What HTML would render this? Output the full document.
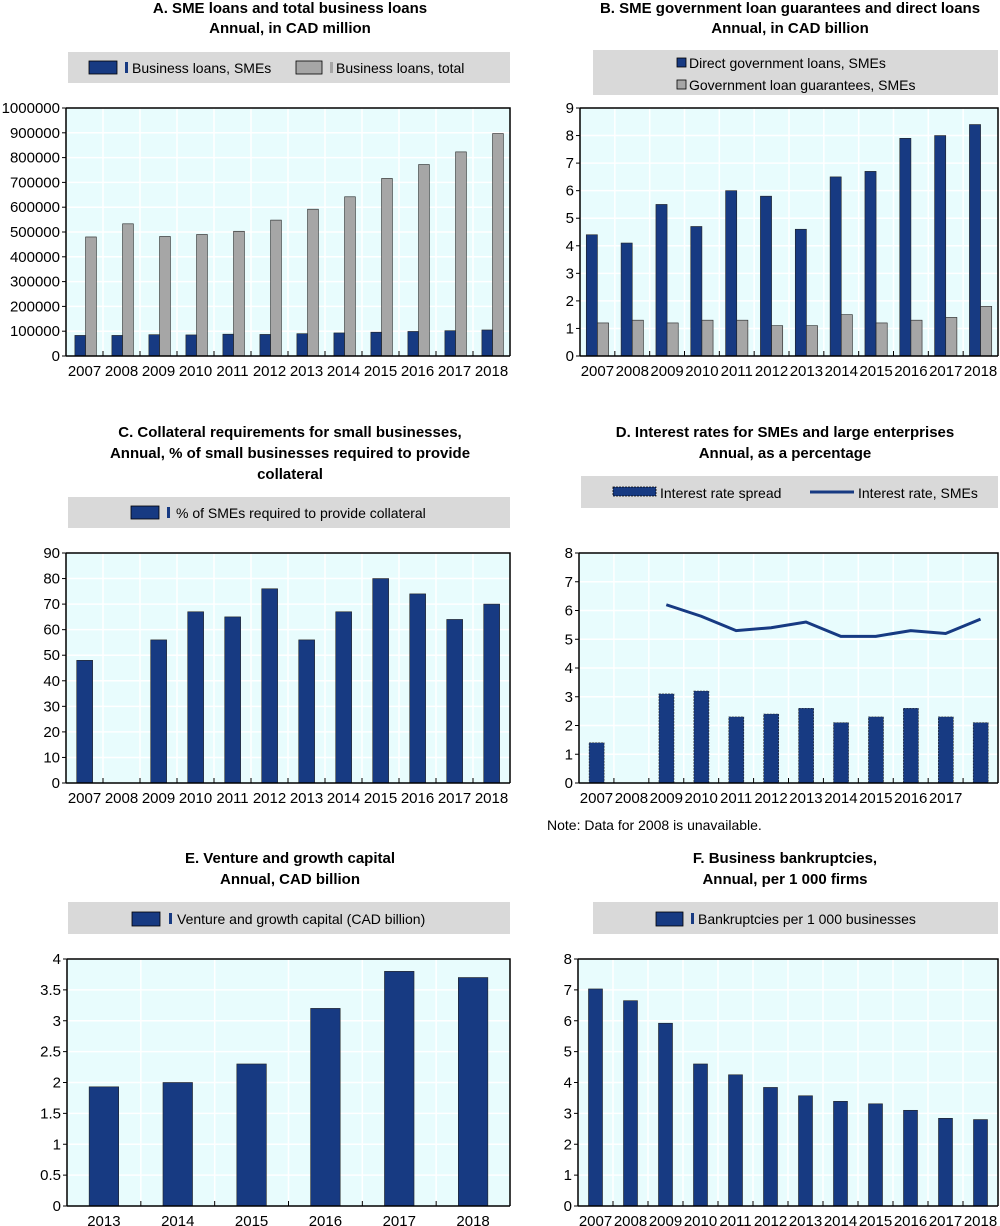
<!DOCTYPE html>
<html><head><meta charset="utf-8"><style>
body{margin:0;background:#fff;}
svg{display:block;font-family:"Liberation Sans Narrow","Liberation Sans",sans-serif;}
.t{font-weight:bold;font-size:15px;text-anchor:middle;font-family:"Liberation Sans",sans-serif;}
.tk{font-size:15px;fill:#000;}
.lg{font-size:14px;fill:#000;}
</style></head><body>
<svg id="s" width="1000" height="1226" viewBox="0 0 1000 1226" xmlns="http://www.w3.org/2000/svg">
<g>
<text class="t" x="290" y="13">A. SME loans and total business loans</text>
<text class="t" x="290" y="33">Annual, in CAD million</text>
<text class="t" x="790" y="13">B. SME government loan guarantees and direct loans</text>
<text class="t" x="790" y="33">Annual, in CAD billion</text>
<text class="t" x="290" y="437">C. Collateral requirements for small businesses,</text>
<text class="t" x="290" y="458">Annual, % of small businesses required to provide</text>
<text class="t" x="290" y="479">collateral</text>
<text class="t" x="785" y="437">D. Interest rates for SMEs and large enterprises</text>
<text class="t" x="785" y="458">Annual, as a percentage</text>
<text class="t" x="290" y="863">E. Venture and growth capital</text>
<text class="t" x="290" y="884">Annual, CAD billion</text>
<text class="t" x="785" y="863">F. Business bankruptcies,</text>
<text class="t" x="785" y="884">Annual, per 1 000 firms</text>
</g>
<g>
<rect x="68" y="52" width="442" height="31" fill="#d9d9d9"/>
<rect x="89" y="61" width="28" height="13" fill="#173a82" stroke="#000" stroke-width="0.8"/>
<rect x="125" y="62" width="3" height="11" fill="#173a82"/>
<text class="lg" x="132" y="73">Business loans, SMEs</text>
<rect x="296" y="61" width="26" height="13" fill="#a6a6a6" stroke="#000" stroke-width="0.8"/>
<rect x="330" y="62" width="3" height="11" fill="#a6a6a6"/>
<text class="lg" x="336" y="73">Business loans, total</text>

<rect x="593" y="50" width="405" height="45" fill="#d9d9d9"/>
<rect x="677" y="58" width="9" height="9" fill="#173a82" stroke="#000" stroke-width="0.8"/>
<text class="lg" x="689" y="68">Direct government loans, SMEs</text>
<rect x="677" y="80" width="9" height="9" fill="#a6a6a6" stroke="#000" stroke-width="0.8"/>
<text class="lg" x="689" y="90">Government loan guarantees, SMEs</text>

<rect x="68" y="497" width="442" height="31" fill="#d9d9d9"/>
<rect x="131" y="506" width="28" height="13" fill="#173a82" stroke="#000" stroke-width="0.8"/>
<rect x="167" y="507" width="3" height="11" fill="#173a82"/>
<text class="lg" x="176" y="518">% of SMEs required to provide collateral</text>

<rect x="581" y="476" width="417" height="32" fill="#d9d9d9"/>
<rect x="613" y="487" width="43" height="9" fill="#173a82" stroke="#000" stroke-width="0.8" stroke-dasharray="2,1"/>
<text class="lg" x="660" y="498">Interest rate spread</text>
<line x1="810" y1="492" x2="854" y2="492" stroke="#173a82" stroke-width="3"/>
<text class="lg" x="858" y="498">Interest rate, SMEs</text>

<rect x="68" y="902" width="442" height="32" fill="#d9d9d9"/>
<rect x="132" y="912" width="28" height="14" fill="#173a82" stroke="#000" stroke-width="0.8"/>
<rect x="169" y="913" width="3" height="11" fill="#173a82"/>
<text class="lg" x="177" y="924">Venture and growth capital (CAD billion)</text>

<rect x="593" y="902" width="405" height="32" fill="#d9d9d9"/>
<rect x="656" y="912" width="27" height="14" fill="#173a82" stroke="#000" stroke-width="0.8"/>
<rect x="691" y="913" width="3" height="11" fill="#173a82"/>
<text class="lg" x="698" y="924">Bankruptcies per 1 000 businesses</text>
</g>
<text class="lg" x="547" y="830">Note: Data for 2008 is unavailable.</text>
</svg>
<script>
const yearsAll = ["2007","2008","2009","2010","2011","2012","2013","2014","2015","2016","2017","2018"];
const yearsD = ["2007","2008","2009","2010","2011","2012","2013","2014","2015","2016","2017",""];
const yearsE = ["2013","2014","2015","2016","2017","2018"];
const smeLoans = [83000,83000,86000,85000,88000,87000,90000,93000,96000,99000,102000,105000];
const totalLoans = [480000,533000,482000,490000,503000,548000,592000,642000,716000,772000,823000,897000];
const ticksA = [0,100000,200000,300000,400000,500000,600000,700000,800000,900000,1000000];
const directLoans = [4.4,4.1,5.5,4.7,6.0,5.8,4.6,6.5,6.7,7.9,8.0,8.4];
const guarantees = [1.2,1.3,1.2,1.3,1.3,1.1,1.1,1.5,1.2,1.3,1.4,1.8];
const ticksB = [0,1,2,3,4,5,6,7,8,9];
const collateral = [48,null,56,67,65,76,56,67,80,74,64,70];
const ticksC = [0,10,20,30,40,50,60,70,80,90];
const spread = [1.4,null,3.1,3.2,2.3,2.4,2.6,2.1,2.3,2.6,2.3,2.1];
const rateSME = [null,null,6.2,5.8,5.3,5.4,5.6,5.1,5.1,5.3,5.2,5.7];
const ticksD = [0,1,2,3,4,5,6,7,8];
const venture = [1.93,2.0,2.3,3.2,3.8,3.7];
const ticksE = ["0","0.5","1","1.5","2","2.5","3","3.5","4"];
const bankrupt = [7.03,6.65,5.92,4.6,4.25,3.84,3.57,3.39,3.31,3.1,2.84,2.8];
const ticksF = [0,1,2,3,4,5,6,7,8];

const NS="http://www.w3.org/2000/svg";
const svg=document.getElementById('s');
function mk(tag,attrs,parent){const e=document.createElementNS(NS,tag);for(const k in attrs)e.setAttribute(k,attrs[k]);(parent||svg).appendChild(e);return e;}
const NAVY="#173a82",GRAY="#a6a6a6";

function chart(name,x0,x1,yTop,yBot,max,ticks,cats,series,line){
  const g=mk('g',{});
  
  
  const n=cats.length, bw=(x1-x0)/n;
  const X=i=>x0+i*bw;
  const Y=v=>yBot-(v/max)*(yBot-yTop);
  const bg=mk('rect',{x:x0,y:yTop,width:x1-x0,height:yBot-yTop,fill:"#e8fcfd"},g);
  
  
  ticks.forEach(t=>{const v=+t;const y=Y(v);
    if(v>0){const gl=mk('line',{x1:x0,x2:x1,y1:y,y2:y,stroke:"#fff","stroke-width":1.5},g);
      
      }
    const tl=mk('text',{x:x0-6,y:y+5,"text-anchor":"end",class:"tk"},g);tl.textContent=t;
    
    
    mk('line',{x1:x0-4,x2:x0,y1:y,y2:y,stroke:"#000"},g);
  });
  for(let i=1;i<n;i++){const vl=mk('line',{x1:X(i),x2:X(i),y1:yTop,y2:yBot,stroke:"#fff","stroke-width":1.5},g);
    
    
    mk('line',{x1:X(i),x2:X(i),y1:yBot-5,y2:yBot,stroke:"#000"},g);}
  series.forEach(s=>{
    s.vals.forEach((v,i)=>{ if(v==null)return;
      const bx=X(i)+s.off*bw;
      const r=mk('rect',{x:bx,y:Y(v),width:s.w*bw,height:yBot-Y(v),fill:s.fill,stroke:"#222","stroke-width":0.6},g);
      if(s.dash) r.setAttribute('stroke-dasharray','2,1');
      
      
    });
  });
  if(line){let d="";line.forEach((v,i)=>{if(v==null)return;d+=(d?"L":"M")+(X(i)+bw/2)+","+Y(v);});
    const p=mk('path',{d:d,fill:"none",stroke:NAVY,"stroke-width":3},g);
    
    }
  mk('path',{d:`M${x0},${yTop}H${x1}V${yBot}`,fill:"none",stroke:"#000","stroke-width":1.5},g);
  const ax=mk('line',{x1:x0,x2:x1,y1:yBot,y2:yBot,stroke:"#000","stroke-width":1.5},g);
  
  
  const ay=mk('line',{x1:x0,x2:x0,y1:yTop,y2:yBot,stroke:"#000","stroke-width":1.5},g);
  
  
  cats.forEach((c,i)=>{const t=mk('text',{x:X(i)+bw/2,y:yBot+20,"text-anchor":"middle",class:"tk"},g);t.textContent=c;
    
    });
}
chart('chart-a-sme-loans',66,510,108,356,1000000,ticksA,yearsAll,[
  {key:'sme',vals:smeLoans,off:0.24,w:0.29,fill:NAVY},
  {key:'total',vals:totalLoans,off:0.53,w:0.29,fill:GRAY}]);
chart('chart-b-government-loans',580,998,108,356,9,ticksB,yearsAll,[
  {key:'direct',vals:directLoans,off:0.18,w:0.32,fill:NAVY},
  {key:'guarantees',vals:guarantees,off:0.5,w:0.32,fill:GRAY}]);
chart('chart-c-collateral',66,510,553,783,90,ticksC,yearsAll,[
  {key:'collateral',vals:collateral,off:0.29,w:0.43,fill:NAVY}]);
chart('chart-d-interest-rates',579,998,553,783,8,ticksD,yearsD,[
  {key:'spread',vals:spread,off:0.29,w:0.43,fill:NAVY,dash:true}],rateSME);
chart('chart-e-venture-capital',67,510,959,1206,4,ticksE,yearsE,[
  {key:'venture',vals:venture,off:0.3,w:0.4,fill:NAVY}]);
chart('chart-f-bankruptcies',578,998,959,1206,8,ticksF,yearsAll,[
  {key:'bankruptcies',vals:bankrupt,off:0.3,w:0.4,fill:NAVY}]);
</script>
</body></html>
